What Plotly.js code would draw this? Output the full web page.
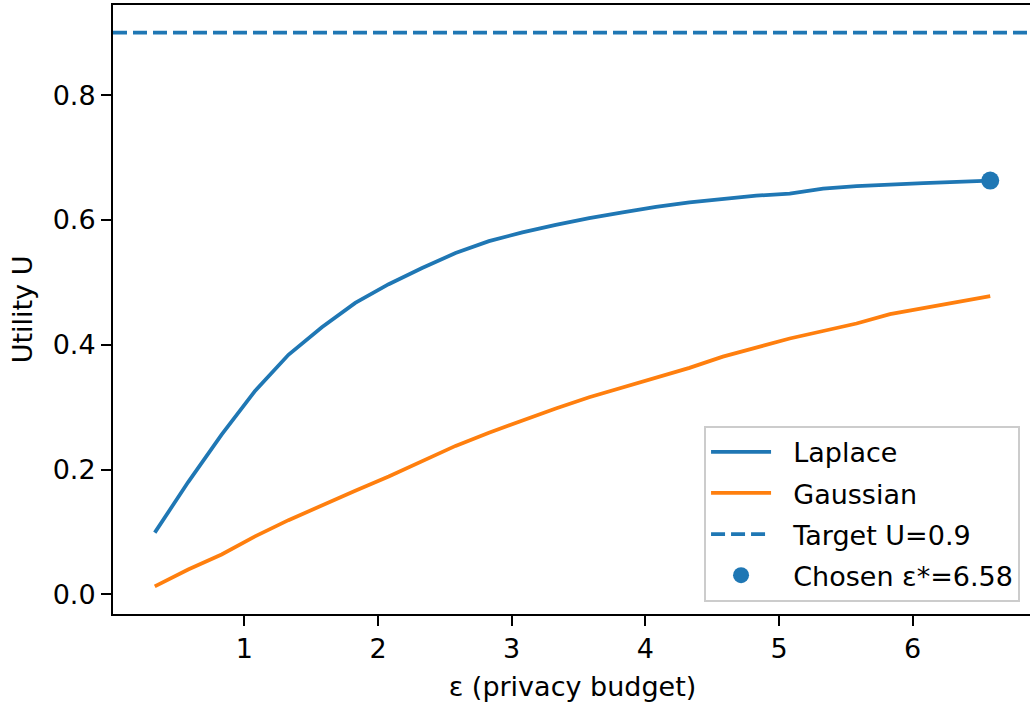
<!DOCTYPE html>
<html><head><meta charset="utf-8">
<script src="https://cdn.plot.ly/plotly-3.0.1.min.js"></script>
<style>html,body{margin:0;padding:0;overflow:hidden;background:#fff}#chart{width:1040px;height:708px}</style>
</head><body><div id="chart"></div>
<script>
const epsilon = [0.33,0.58,0.83,1.08,1.33,1.58,1.83,2.08,2.33,2.58,2.83,3.08,3.33,3.58,3.83,4.08,4.33,4.58,4.83,5.08,5.33,5.58,5.83,6.08,6.33,6.58];
const laplaceU = [0.099,0.180,0.256,0.326,0.384,0.428,0.467,0.497,0.523,0.547,0.566,0.580,0.592,0.603,0.612,0.621,0.628,0.634,0.639,0.642,0.650,0.654,0.657,0.659,0.661,0.663];
const gaussianU = [0.013,0.040,0.064,0.093,0.119,0.143,0.166,0.189,0.213,0.238,0.259,0.279,0.298,0.316,0.332,0.348,0.363,0.381,0.395,0.410,0.422,0.434,0.449,0.459,0.469,0.478];
const targetU = 0.9;
const chosenEps = [6.58];
const chosenU = [0.663];
const seriesNames = ["Laplace","Gaussian","Target U=0.9","Chosen ε*=6.58"];
const xTickVals = [1,2,3,4,5,6];
const yTickVals = [0.0,0.2,0.4,0.6,0.8];

const blue = "#1f77b4", orange = "#ff7f0e";
const xmin = Math.min(...epsilon), xmax = Math.max(...epsilon);
const xpad = (xmax - xmin) * 0.05;
const xRange = [xmin - xpad, xmax + xpad];
const allY = laplaceU.concat(gaussianU, [targetU]);
const ymin = Math.min(...allY), ymax = Math.max(...allY);
const ypad = (ymax - ymin) * 0.05;
const yRange = [ymin - ypad, ymax + ypad];

const font = {family: "DejaVu Sans", size: 27, color: "#000"};
const gap = "\u00a0\u00a0";

const traces = [
  {x: epsilon, y: laplaceU, type: "scatter", mode: "lines", name: gap + seriesNames[0],
   line: {color: blue, width: 3.75}, legendgroup: "a"},
  {x: epsilon, y: gaussianU, type: "scatter", mode: "lines", name: gap + seriesNames[1],
   line: {color: orange, width: 3.75}, legendgroup: "b"},
  {x: xRange, y: [targetU, targetU], type: "scatter", mode: "lines", name: gap + seriesNames[2],
   line: {color: blue, width: 3.75, dash: "14px,6px"}, legendgroup: "c"},
  {x: chosenEps, y: chosenU, type: "scatter", mode: "markers", name: gap + seriesNames[3],
   marker: {color: blue, size: 18}, legendgroup: "d", cliponaxis: false}
];

const axisCommon = {
  showline: true, mirror: true, linecolor: "#000", linewidth: 2,
  ticks: "outside", ticklen: 10, tickwidth: 2, tickcolor: "#000",
  showgrid: false, zeroline: false, tickfont: font
};

const layout = {
  width: 1040, height: 708,
  margin: {l: 113, r: 8, t: 5, b: 94},
  paper_bgcolor: "#fff", plot_bgcolor: "#fff",
  font: font,
  showlegend: true,
  xaxis: Object.assign({}, axisCommon, {
    range: xRange, tickvals: xTickVals, ticktext: xTickVals.map(String),
    title: {text: "ε (privacy budget)", font: font, standoff: 14}
  }),
  yaxis: Object.assign({}, axisCommon, {
    range: yRange, tickvals: yTickVals, ticktext: yTickVals.map(v => v.toFixed(1)),
    title: {text: "Utility U", font: font, standoff: 12}
  }),
  legend: {
    x: 0.987, y: 0.02, xanchor: "right", yanchor: "bottom",
    bgcolor: "rgba(255,255,255,0.8)", bordercolor: "#cccccc", borderwidth: 2,
    font: font, traceorder: "grouped", tracegroupgap: 3, itemwidth: 60
  }
};

Plotly.newPlot("chart", traces, layout, {displayModeBar: false, staticPlot: true});
</script></body></html>
